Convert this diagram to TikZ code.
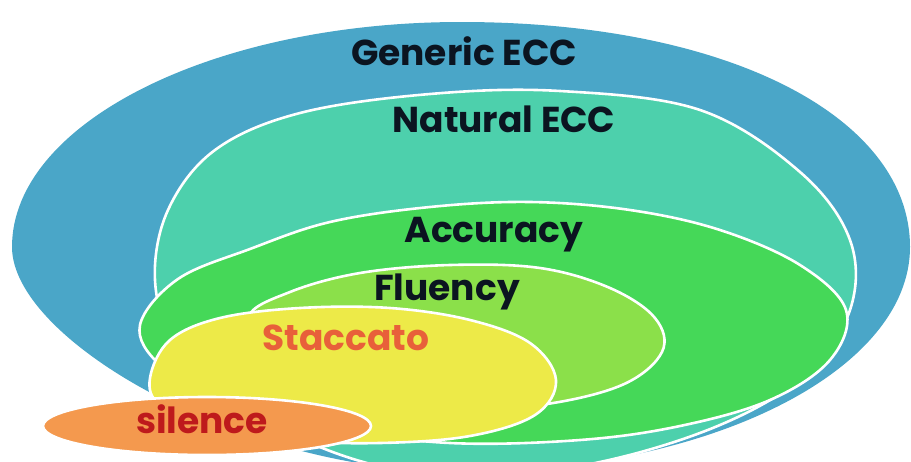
\documentclass[tikz,border=0pt]{standalone}
\usepackage{fontspec}
\newfontfamily\labfont{Poppins}
\definecolor{cblue}{HTML}{4AA6C8}
\definecolor{cteal}{HTML}{4DD0AC}
\definecolor{cgreen}{HTML}{45D858}
\definecolor{clime}{HTML}{8BE04A}
\definecolor{cyellow}{HTML}{EDEA48}
\definecolor{corange}{HTML}{F4994E}
\definecolor{cdark}{HTML}{0B1420}
\definecolor{cstac}{HTML}{E8603A}
\definecolor{csil}{HTML}{BE1A1C}
\tikzset{
  region/.style={draw=white,line width=2.6pt},
  lab/.style={anchor=base,inner sep=0pt,font=\labfont\bfseries\fontsize{36}{40}\selectfont,text=cdark}
}
\begin{document}
\begin{tikzpicture}[x=1pt,y=-1pt]
\useasboundingbox (0,0) rectangle (911,461);
\fill[white] (0,0) rectangle (911,461);
\begin{scope}
\clip (0,0) rectangle (911,461);
% Generic ECC
\fill[cblue] (12,247) .. controls (12,123) and (213,22) .. (461,22)
  .. controls (730,22) and (910,118) .. (910,247)
  .. controls (910,371) and (709,472) .. (461,472)
  .. controls (240,472) and (12,340) .. (12,247) -- cycle;
% Natural ECC
\path[region,fill=cteal] plot[smooth cycle,tension=0.6] coordinates {
 (155,280) (168,210) (215,150) (300,113) (430,94) (560,91) (700,110)
 (800,172) (850,240) (850,310) (805,375) (720,425) (600,462) (470,478)
 (350,458) (240,405) (175,340)};
% Accuracy
\path[region,fill=cgreen] plot[smooth cycle,tension=0.6] coordinates {
 (140,325) (178,279) (250,249) (330,222) (430,207) (530,202) (630,210)
 (720,230) (800,265) (846,310) (830,360) (770,400) (680,426) (580,440)
 (450,443) (330,428) (220,400) (160,365)};
% Fluency
\path[region,fill=clime] plot[smooth cycle,tension=0.6] coordinates {
 (248,318) (290,292) (360,273) (450,265) (540,268) (610,288) (655,318)
 (662,352) (622,385) (540,405) (440,410) (340,398) (270,365)};
% Staccato
\path[region,fill=cyellow] plot[smooth cycle,tension=0.6] coordinates {
 (150,378) (170,340) (220,318) (300,308) (390,308) (470,320) (530,343)
 (556,380) (535,415) (470,436) (380,443) (290,440) (210,425) (160,405)};
% silence
\path[region,fill=corange] (207,426) ellipse [x radius=164, y radius=29];
\end{scope}
\node[lab] (gen) at (464,65) {Generic ECC};
\node[lab] (nat) at (504,132) {Natural ECC};
\node[lab] (acc) at (494,242) {Accuracy};
\node[lab] (flu) at (447,300) {Fluency};
\node[lab,text=cstac] (sta) at (346,350) {Staccato};
\node[lab,text=csil] (sil) at (202,433) {silence};
\end{tikzpicture}
\end{document}
